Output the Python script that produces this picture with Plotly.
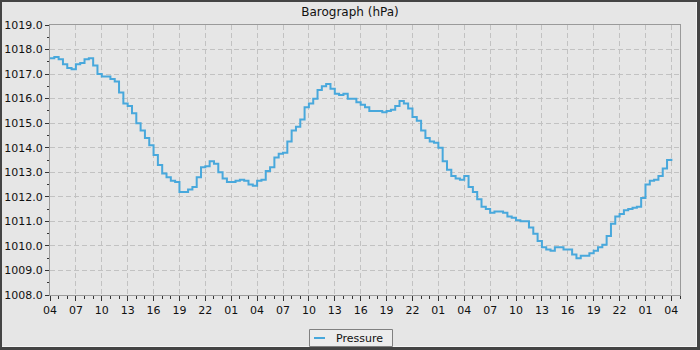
import pandas as pd
import plotly.graph_objects as go

# ---- data (half-hourly readings) ----
start_time = "2024-01-01 04:00"
pressure = [
    1017.65, 1017.7, 1017.6, 1017.4, 1017.25, 1017.2, 1017.4, 1017.45, 1017.6, 1017.65,
    1017.35, 1017.0, 1016.9, 1016.9, 1016.8, 1016.7, 1016.25, 1015.8, 1015.7, 1015.4,
    1015.0, 1014.7, 1014.4, 1014.1, 1013.7, 1013.3, 1012.95, 1012.8, 1012.65, 1012.6,
    1012.2, 1012.2, 1012.3, 1012.4, 1012.8, 1013.2, 1013.25, 1013.45, 1013.35, 1013.0,
    1012.75, 1012.6, 1012.6, 1012.65, 1012.7, 1012.65, 1012.5, 1012.45, 1012.65, 1012.7,
    1013.05, 1013.2, 1013.6, 1013.75, 1013.8, 1014.25, 1014.7, 1014.85, 1015.15, 1015.65,
    1015.8, 1016.0, 1016.35, 1016.5, 1016.6, 1016.4, 1016.2, 1016.15, 1016.2, 1016.0,
    1016.0, 1015.85, 1015.75, 1015.65, 1015.5, 1015.5, 1015.5, 1015.45, 1015.5, 1015.55,
    1015.7, 1015.9, 1015.8, 1015.6, 1015.25, 1015.1, 1014.7, 1014.4, 1014.25, 1014.2,
    1014.0, 1013.45, 1013.1, 1012.85, 1012.75, 1012.7, 1012.85, 1012.4, 1012.2, 1011.9,
    1011.6, 1011.5, 1011.35, 1011.4, 1011.4, 1011.35, 1011.2, 1011.15, 1011.05, 1011.0,
    1011.0, 1010.75, 1010.5, 1010.2, 1009.95, 1009.85, 1009.8, 1009.95, 1009.95, 1009.85,
    1009.85, 1009.65, 1009.5, 1009.6, 1009.6, 1009.7, 1009.8, 1009.95, 1010.05, 1010.4,
    1010.9, 1011.2, 1011.3, 1011.45, 1011.5, 1011.55, 1011.6, 1011.95, 1012.5, 1012.65,
    1012.7, 1012.85, 1013.15, 1013.5, 1013.55,
]
times = pd.date_range(start_time, periods=len(pressure), freq="30min")
x_range = ["2024-01-01 04:00", "2024-01-04 05:00"]
y_range = [1008, 1019]
series_name = "Pressure"
title_text = "Barograph (hPa)"

W, H = 700, 350
ML, MR, MT, MB = 50, 20, 25, 55
PW, PH = W - ML - MR, H - MT - MB

def px(p):
    return (p - ML) / PW

def py(p):
    return (H - MB - p) / PH

LINE = "#48a8dc"
BG = "#e6e6e6"
AXIS = "#9a9a9a"
GRID = "#c2c2c2"
FONT = "DejaVu Sans"

fig = go.Figure()
fig.add_trace(go.Scatter(
    x=times, y=pressure, mode="lines", name=series_name, showlegend=False,
    line=dict(color=LINE, width=2, shape="hv"),
))

shapes = []
dark = "#444444"
# outer frame
for (x0, y0, x1, y1, c) in [
    (0, 0, 700, 2, dark), (0, 0, 2, 350, dark),
    (697, 0, 700, 350, dark), (0, 347, 700, 350, dark),
    (696, 2, 697, 347, "#f4f4f4"), (2, 346, 697, 347, "#f4f4f4"),
]:
    shapes.append(dict(type="rect", xref="paper", yref="paper",
                       x0=px(x0), x1=px(x1), y0=py(y0), y1=py(y1),
                       fillcolor=c, line=dict(width=0), layer="above"))

# manual legend box
shapes.append(dict(type="rect", xref="paper", yref="paper",
                   x0=px(309.5), x1=px(392.5), y0=py(329.5), y1=py(346.5),
                   fillcolor="#ececec", line=dict(color="#808080", width=1), layer="above"))
shapes.append(dict(type="line", xref="paper", yref="paper",
                   x0=px(314), x1=px(325), y0=py(338), y1=py(338),
                   line=dict(color=LINE, width=2), layer="above"))

annotations = [dict(text=series_name, xref="paper", yref="paper",
                    x=px(334), y=py(338), xanchor="left", yanchor="middle",
                    showarrow=False, font=dict(family=FONT, size=11, color="#111111"))]

fig.update_layout(
    width=W, height=H,
    margin=dict(l=ML, r=MR, t=MT, b=MB, pad=0, autoexpand=False),
    paper_bgcolor=BG, plot_bgcolor=BG,
    font=dict(family=FONT, size=11, color="#111111"),
    title=dict(text=title_text, x=0.5, xanchor="center", y=1 - 12 / H,
               yanchor="middle", yref="container",
               font=dict(family=FONT, size=12, color="#111111")),
    showlegend=False,
    shapes=shapes,
    annotations=annotations,
    xaxis=dict(
        type="date", range=x_range, tick0="2024-01-01 04:00", dtick=3 * 3600000,
        tickformat="%H", showline=True, linecolor=AXIS, linewidth=1, mirror=True,
        ticks="outside", ticklen=5, tickcolor="#333333", tickwidth=1,
        showgrid=True, gridcolor=GRID, griddash="5px,3px", gridwidth=1,
        minor=dict(dtick=3600000, tick0="2024-01-01 04:00", ticks="outside",
                   ticklen=3, tickcolor="#333333", showgrid=False),
        zeroline=False, tickfont=dict(size=11), automargin=False,
    ),
    yaxis=dict(
        range=y_range, dtick=1, tick0=1008, tickformat=".1f",
        showline=True, linecolor=AXIS, linewidth=1, mirror=True,
        ticks="outside", ticklen=4, tickcolor="#333333", tickwidth=1,
        showgrid=True, gridcolor=GRID, griddash="5px,3px", gridwidth=1,
        minor=dict(dtick=0.5, ticks="outside", ticklen=2, tickcolor="#333333",
                   showgrid=False),
        zeroline=False, tickfont=dict(size=11), automargin=False,
    ),
)

fig.write_html("out.html")
